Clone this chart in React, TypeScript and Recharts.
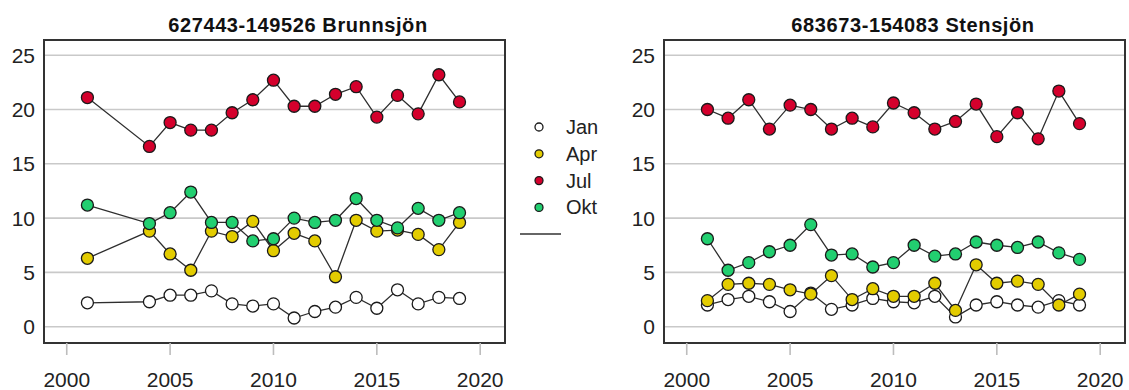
import React from 'react';
import {
  LineChart,
  Line,
  XAxis,
  YAxis,
  CartesianGrid,
  ReferenceArea
} from 'recharts';

// Brunnsjön: no samples 2002-2003
const brunnYears = [2001, 2004, 2005, 2006, 2007, 2008, 2009, 2010, 2011, 2012, 2013, 2014, 2015, 2016, 2017, 2018, 2019];
const brunnJan = [2.2, 2.3, 2.9, 2.9, 3.3, 2.1, 1.9, 2.1, 0.8, 1.4, 1.8, 2.7, 1.7, 3.4, 2.1, 2.7, 2.6];
const brunnApr = [6.3, 8.8, 6.7, 5.2, 8.8, 8.3, 9.7, 7.0, 8.6, 7.9, 4.6, 9.8, 8.8, 8.9, 8.5, 7.1, 9.6];
const brunnJul = [21.1, 16.6, 18.8, 18.1, 18.1, 19.7, 20.9, 22.7, 20.3, 20.3, 21.4, 22.1, 19.3, 21.3, 19.6, 23.2, 20.7];
const brunnOkt = [11.2, 9.5, 10.5, 12.4, 9.6, 9.6, 7.9, 8.1, 10.0, 9.6, 9.8, 11.8, 9.8, 9.1, 10.9, 9.8, 10.5];

const stenYears = [2001, 2002, 2003, 2004, 2005, 2006, 2007, 2008, 2009, 2010, 2011, 2012, 2013, 2014, 2015, 2016, 2017, 2018, 2019];
const stenJan = [2.0, 2.5, 2.8, 2.3, 1.4, 3.1, 1.6, 2.0, 2.6, 2.3, 2.2, 2.8, 0.9, 2.0, 2.3, 2.0, 1.8, 2.4, 2.0];
const stenApr = [2.4, 3.9, 4.0, 3.9, 3.4, 3.0, 4.7, 2.5, 3.5, 2.8, 2.8, 4.0, 1.5, 5.7, 4.0, 4.2, 3.9, 2.0, 3.0];
const stenJul = [20.0, 19.2, 20.9, 18.2, 20.4, 20.0, 18.2, 19.2, 18.4, 20.6, 19.7, 18.2, 18.9, 20.5, 17.5, 19.7, 17.3, 21.7, 18.7];
const stenOkt = [8.1, 5.2, 5.9, 6.9, 7.5, 9.4, 6.6, 6.7, 5.5, 5.9, 7.5, 6.5, 6.7, 7.8, 7.5, 7.3, 7.8, 6.8, 6.2];

const months = ['Jan', 'Apr', 'Jul', 'Okt'];
const monthKeys = ['jan', 'apr', 'jul', 'okt'];
const monthFills = ['#ffffff', '#e3cc00', '#d4002c', '#22cf70'];

const xTicks = [2000, 2005, 2010, 2015, 2020];
const yTicks = [0, 5, 10, 15, 20, 25];
const xDomain = [1998.9, 2021.2];
const yDomain = [-1.5, 26.4];

function buildRows(years: number[], jan: number[], apr: number[], jul: number[], okt: number[]) {
  return years.map((year, i) => ({ year, jan: jan[i], apr: apr[i], jul: jul[i], okt: okt[i] }));
}

const brunnData = buildRows(brunnYears, brunnJan, brunnApr, brunnJul, brunnOkt);
const stenData = buildRows(stenYears, stenJan, stenApr, stenJul, stenOkt);

const font = '"Liberation Sans", Arial, sans-serif';

function makeDot(fill: string) {
  return (props: any) => {
    const { cx, cy, index } = props;
    if (cx == null || cy == null) return <g key={index} />;
    return <circle key={index} cx={cx} cy={cy} r={6} fill={fill} stroke="#1a1a1a" strokeWidth={1.3} />;
  };
}

function Panel({ data, width, marginRight }: { data: any[]; width: number; marginRight: number }) {
  return (
    <LineChart
      width={width}
      height={390}
      data={data}
      margin={{ top: 40, right: marginRight, bottom: 2, left: 0 }}
    >
      <CartesianGrid vertical={false} stroke="#c9c9c9" strokeWidth={1.6} />
      <XAxis
        dataKey="year"
        type="number"
        domain={xDomain}
        ticks={xTicks}
        allowDataOverflow
        height={45}
        axisLine={false}
        tickSize={12}
        tickLine={{ stroke: '#bdbdbd', strokeWidth: 1.6 }}
        tickMargin={17}
        tick={{ fill: '#222', fontSize: 21, fontFamily: font }}
      />
      <YAxis
        type="number"
        domain={yDomain}
        ticks={yTicks}
        allowDataOverflow
        width={44}
        axisLine={false}
        tickLine={false}
        tickSize={0}
        tickMargin={9}
        tick={{ fill: '#222', fontSize: 21, fontFamily: font }}
      />
      <ReferenceArea
        x1={xDomain[0]}
        x2={xDomain[1]}
        y1={yDomain[0]}
        y2={yDomain[1]}
        fill="none"
        stroke="#333"
        strokeWidth={2}
        ifOverflow="visible"
      />
      {monthKeys.map((key, i) => (
        <Line
          key={key}
          type="linear"
          dataKey={key}
          stroke="#2e2e2e"
          strokeWidth={1.3}
          dot={makeDot(monthFills[i])}
          activeDot={false}
          isAnimationActive={false}
        />
      ))}
    </LineChart>
  );
}

export default function App() {
  return (
    <div style={{ position: 'relative', width: 1129, height: 390, background: '#fff', overflow: 'hidden' }}>
      <style>{'body{margin:0}'}</style>
      <div style={{ position: 'absolute', left: 0, top: 0 }}>
        <Panel data={brunnData} width={530} marginRight={25} />
      </div>
      <div style={{ position: 'absolute', left: 620, top: 0 }}>
        <Panel data={stenData} width={509} marginRight={4} />
      </div>
      <svg
        width={1129}
        height={390}
        style={{ position: 'absolute', left: 0, top: 0, pointerEvents: 'none' }}
      >
        <text x={298} y={32} textAnchor="middle" fontFamily={font} fontWeight="bold" fontSize={20} letterSpacing={0.6} fill="#111">
          627443-149526 Brunnsjön
        </text>
        <text x={913} y={32} textAnchor="middle" fontFamily={font} fontWeight="bold" fontSize={20} letterSpacing={0.6} fill="#111">
          683673-154083 Stensjön
        </text>
        {months.map((m, i) => (
          <g key={m}>
            <circle cx={539} cy={127 + i * 26.8} r={4} fill={monthFills[i]} stroke="#1a1a1a" strokeWidth={1.3} />
            <text x={566} y={127 + i * 26.8} dy="0.35em" fontFamily={font} fontSize={20} fill="#222">
              {m}
            </text>
          </g>
        ))}
        <line x1={520} x2={561} y1={234} y2={234} stroke="#333" strokeWidth={1.5} />
      </svg>
    </div>
  );
}
